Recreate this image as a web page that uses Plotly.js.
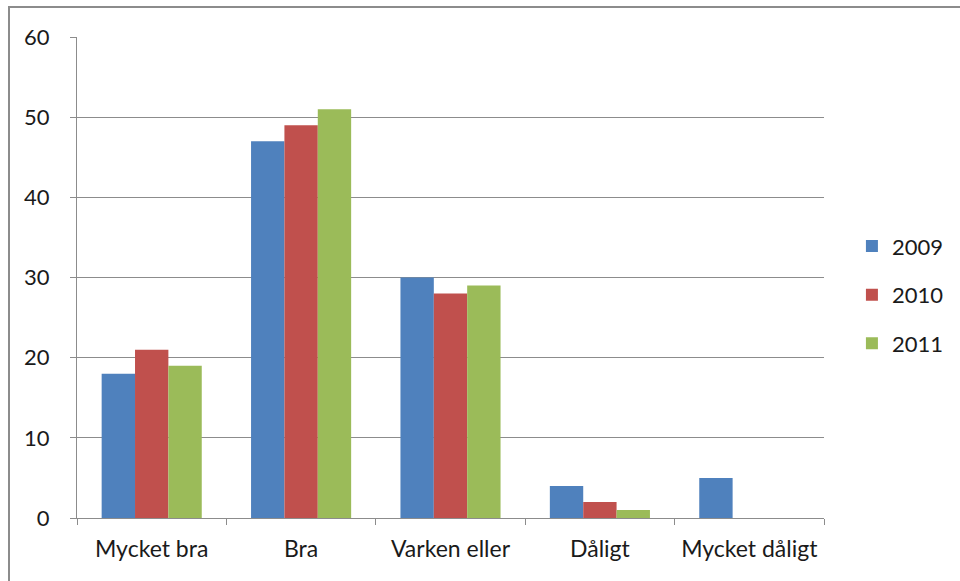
<!DOCTYPE html>
<html>
<head>
<meta charset="utf-8">
<script src="https://cdn.plot.ly/plotly-3.0.1.min.js"></script>
<style>
  html, body { margin: 0; padding: 0; background: #fff; overflow: hidden; }
  #frame { position: absolute; left: 8px; top: 6px; width: 960px; height: 600px; border-left: 2px solid #8c8c8c; border-top: 2px solid #8c8c8c; }
  #chart { position: absolute; left: 0; top: 0; width: 960px; height: 581px; }
</style>
</head>
<body>
<div id="frame"></div>
<div id="chart"></div>
<script>
// categories and values per year
const categories = ['Mycket bra', 'Bra', 'Varken eller', 'Dåligt', 'Mycket dåligt'];
const years = ['2009', '2010', '2011'];
const values2009 = [18, 47, 30, 4, 5];
const values2010 = [21, 49, 28, 2, 0];
const values2011 = [19, 51, 29, 1, 0];
const colors = ['#4F81BD', '#C0504D', '#9BBB59'];

const series = [values2009, values2010, values2011];
const data = series.map((vals, i) => ({
    type: 'bar',
    name: years[i],
    x: categories,
    y: vals,
    legendgroup: years[i],
    marker: { color: colors[i], line: { width: 0 } },
    hoverinfo: 'x+y+name'
}));

const font = "Lato, Open Sans, sans-serif";

const layout = {
    width: 960,
    height: 581,
    margin: { l: 77, r: 135, t: 37, b: 63 },
    paper_bgcolor: 'rgba(0,0,0,0)',
    plot_bgcolor: 'rgba(0,0,0,0)',
    barmode: 'group',
    bargap: 0.33,
    bargroupgap: 0,
    font: { family: font, size: 22, color: '#1a1a1a' },
    showlegend: true,
    legend: {
        x: 1.036, xanchor: 'left',
        y: 0.464, yanchor: 'middle',
        font: { size: 22, family: font, color: '#1a1a1a' },
        tracegroupgap: 17,
        itemwidth: 30
    },
    xaxis: {
        type: 'category',
        showline: true,
        linecolor: '#8c8c8c',
        linewidth: 1,
        ticks: 'outside',
        tickson: 'boundaries',
        ticklen: 6,
        tickcolor: '#8c8c8c',
        showgrid: false,
        tickfont: { size: 23 },
        ticklabelstandoff: 10
    },
    yaxis: {
        range: [0, 60],
        dtick: 10,
        showline: true,
        linecolor: '#8c8c8c',
        linewidth: 1,
        ticks: 'outside',
        ticklen: 6,
        tickcolor: '#8c8c8c',
        showgrid: true,
        gridcolor: '#8c8c8c',
        gridwidth: 1,
        zeroline: false,
        tickfont: { size: 22 },
        ticklabelstandoff: 16
    }
};

Plotly.newPlot('chart', data, layout, { displayModeBar: false, staticPlot: true });
</script>
</body>
</html>
